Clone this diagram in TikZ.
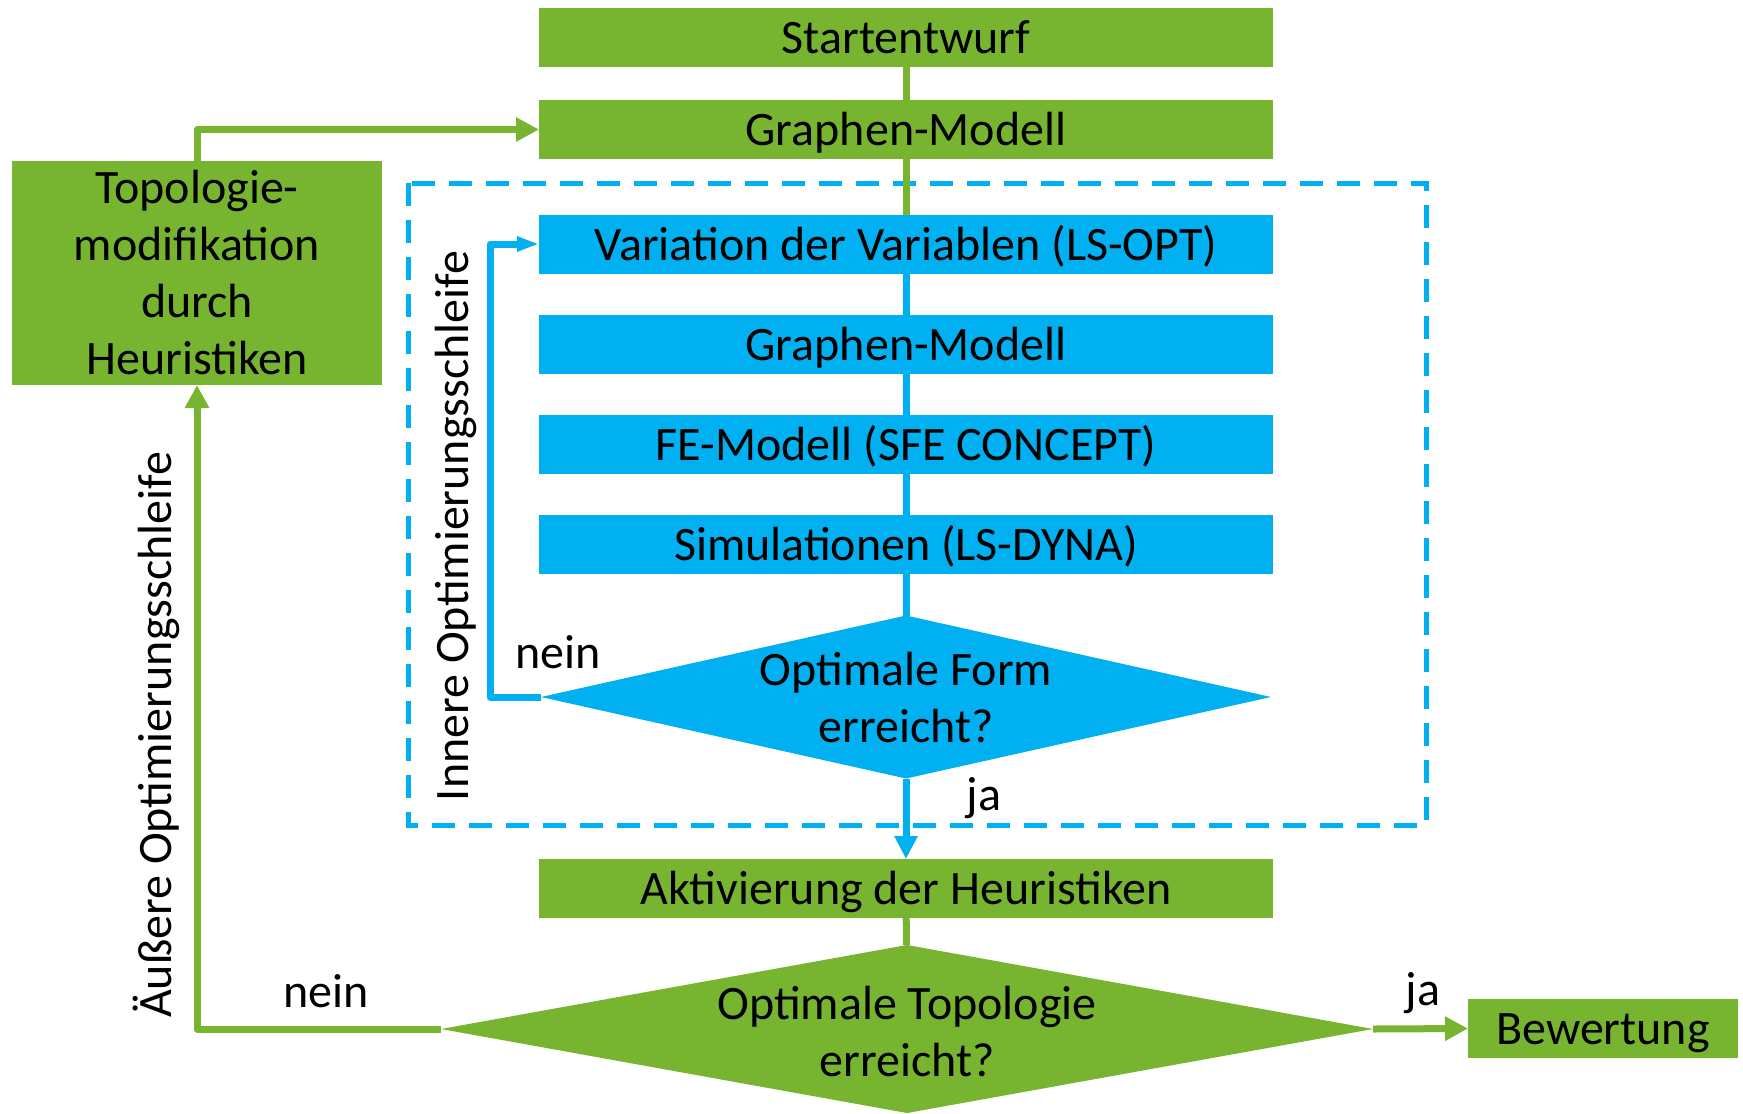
\documentclass[tikz,border=0pt]{standalone}
\usepackage{fontspec}
\setmainfont{Carlito}
\usetikzlibrary{positioning,shapes.geometric,arrows.meta}
\definecolor{grn}{RGB}{119,181,48}
\definecolor{blu}{RGB}{0,176,240}
\tikzset{%
  box/.style={minimum width=367pt,minimum height=29.5pt,inner sep=0pt,outer sep=0pt,
    text height=19pt,text depth=3pt,font=\fontsize{24}{28.5}\selectfont},
  gbox/.style={box,fill=grn},
  bbx/.style={box,fill=blu},
  decision/.style={diamond,inner sep=0pt,outer sep=0pt},
  lbl/.style={font=\fontsize{24}{28.5}\selectfont,inner sep=0pt},
  gline/.style={draw=grn,line width=3.5pt,line join=round},
  bline/.style={draw=blu,line width=3.5pt,line join=round},
  garrow/.style={gline,-{Triangle[length=11.5pt,width=11.5pt]}},
  barrow/.style={bline,-{Triangle[length=11.5pt,width=11pt]}},
  loopback/.style={bline,-{Triangle[length=11pt,width=7pt]}},
  dashbox/.style={draw=blu,line width=2.5pt,dash pattern=on 11.5pt off 7pt}
}

\begin{document}
\begin{tikzpicture}[x=0.5pt,y=-0.5pt]
  \useasboundingbox (0,0) rectangle (1743,1113);

  % inner loop frame
  \draw[dashbox] (408,183) rectangle (1426,825);

  % main column
  \node[gbox] (start) at (906,37.5) {Startentwurf};
  \node[gbox] (graph1) at (906,129.5) {Graphen-Modell};
  \node[bbx] (var) at (906,244) {Variation der Variablen (LS-OPT)};
  \node[bbx,below=20.5pt of var] (graph2) {Graphen-Modell};
  \node[bbx,below=20.5pt of graph2] (fe) {FE-Modell (SFE CONCEPT)};
  \node[bbx,below=20.5pt of fe] (sim) {Simulationen (LS-DYNA)};
  \node[decision,fill=blu,minimum width=365pt,minimum height=81.5pt] (form) at (906,697) {};
  \node[lbl,align=center] (formtxt) at (906,698) {Optimale Form\\erreicht?};
  \node[gbox] (act) at (906,888.5) {Aktivierung der Heuristiken};
  \node[decision,fill=grn,minimum width=466pt,minimum height=84pt] (topo) at (907,1029) {};
  \node[lbl,align=center] (topotxt) at (907,1031) {Optimale Topologie\\erreicht?};
  \node[gbox,minimum width=135pt] (bew) at (1603,1028.5) {Bewertung};

  % heuristics box on the left
  \node[gbox,minimum width=185pt,minimum height=112pt,text height=,text depth=,align=center]
    (heur) at (197,273) {Topologie-\\modifikation\\durch\\Heuristiken};

  % connectors
  \draw[gline] (start) -- (graph1);
  \draw[gline] (graph1) -- (var);
  \draw[bline] (var) -- (graph2);
  \draw[bline] (graph2) -- (fe);
  \draw[bline] (fe) -- (sim);
  \draw[bline] (sim) -- (form);
  \draw[barrow] (form.south) -- (act.north);
  \draw[gline] (act) -- (topo);
  \draw[garrow] (topo.east) -- (bew.west);
  \coordinate (innerx) at (490,697);
  \draw[loopback] (form.west) -- (innerx) |- (var.west);
  \draw[garrow] (topo.west) -| (heur.south);
  \draw[garrow] (heur.north) |- (graph1.west);

  % labels
  \node[lbl] (nein1) at (558,652) {nein};
  \node[lbl] (ja1) at (984,798) {ja};
  \node[lbl] (nein2) at (326,991) {nein};
  \node[lbl] (ja2) at (1423,993) {ja};
  \node[lbl,rotate=90] (innerlbl) at (456,526) {Innere Optimierungsschleife};
  \node[lbl,rotate=90] (outerlbl) at (156,735) {Äußere Optimierungsschleife};
\end{tikzpicture}
\end{document}
